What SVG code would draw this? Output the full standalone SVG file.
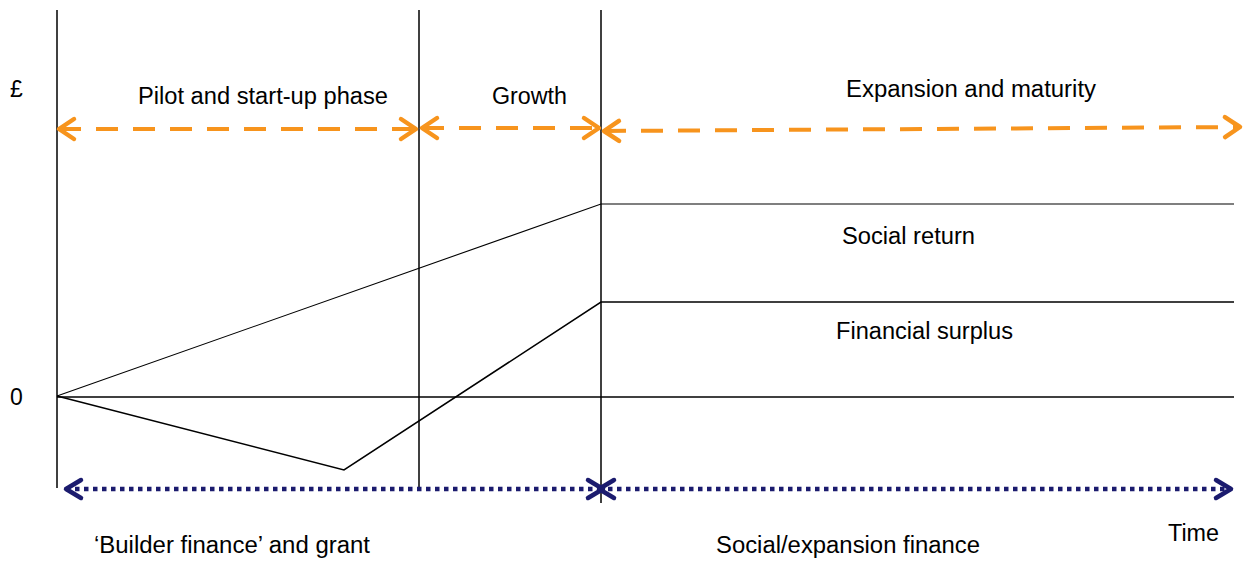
<svg xmlns="http://www.w3.org/2000/svg" width="1244" height="561" viewBox="0 0 1244 561">
<style>
text{font-family:"Liberation Sans",Arial,sans-serif;font-size:23px;fill:#000}
.ln{stroke:#000;fill:none;stroke-width:1.5}
.thin{stroke:#000;fill:none;stroke-width:1.1}
.org{stroke:#F7941D;stroke-width:4;fill:none;stroke-dasharray:22 15}
.nav{stroke:#1B1B6E;stroke-width:4.5;fill:none;stroke-dasharray:4.5 4.5}
</style>
<defs>
<marker id="ao" markerUnits="userSpaceOnUse" markerWidth="30" markerHeight="30" viewBox="-20 -15 30 30" refX="0" refY="0" orient="auto-start-reverse">
<path d="M-15,-10 L0,0 L-15,10" fill="none" stroke="#F7941D" stroke-width="4.5" stroke-linecap="round" stroke-linejoin="round"/>
</marker>
<marker id="an" markerUnits="userSpaceOnUse" markerWidth="30" markerHeight="30" viewBox="-20 -15 30 30" refX="0" refY="0" orient="auto-start-reverse">
<path d="M-15,-9 L0,0 L-15,9" fill="none" stroke="#1B1B6E" stroke-width="4.5" stroke-linecap="round" stroke-linejoin="round"/>
</marker>
</defs>
<rect width="1244" height="561" fill="#fff"/>
<g id="axes">
<line class="ln" x1="57" y1="10" x2="57" y2="488"/>
<line class="ln" x1="419" y1="10" x2="419" y2="488"/>
<line class="ln" x1="601" y1="10" x2="601" y2="503"/>
<line class="ln" x1="57" y1="397" x2="1234" y2="397"/>
</g>
<g id="series">
<polyline id="social-return-line" class="thin" points="57,396 601,204 1234,204"/>
<polyline id="financial-surplus-line" class="ln" points="57,396 344,470 601,302 1234,302"/>
</g>
<g id="connectors">
<line class="org" x1="59" y1="129" x2="416" y2="129" marker-start="url(#ao)" marker-end="url(#ao)"/>
<line class="org" x1="422" y1="128" x2="599" y2="128" marker-start="url(#ao)" marker-end="url(#ao)"/>
<line class="org" x1="604" y1="131" x2="1240" y2="127" marker-start="url(#ao)" marker-end="url(#ao)"/>
<line class="nav" x1="66" y1="489" x2="603" y2="489" marker-start="url(#an)" marker-end="url(#an)"/>
<line class="nav" x1="599" y1="489" x2="1231" y2="489" marker-start="url(#an)" marker-end="url(#an)"/>
</g>
<g id="labels">
<text x="10" y="97">£</text>
<text x="10" y="405">0</text>
<text x="138" y="104" textLength="250" lengthAdjust="spacingAndGlyphs">Pilot and start-up phase</text>
<text x="492" y="104" textLength="75" lengthAdjust="spacingAndGlyphs">Growth</text>
<text x="846" y="97" textLength="250" lengthAdjust="spacingAndGlyphs">Expansion and maturity</text>
<text x="842" y="244" textLength="133" lengthAdjust="spacingAndGlyphs">Social return</text>
<text x="836" y="339" textLength="177" lengthAdjust="spacingAndGlyphs">Financial surplus</text>
<text x="1168" y="541" textLength="51" lengthAdjust="spacingAndGlyphs">Time</text>
<text x="94" y="553" textLength="276" lengthAdjust="spacingAndGlyphs">‘Builder finance’ and grant</text>
<text x="716" y="553" textLength="264" lengthAdjust="spacingAndGlyphs">Social/expansion finance</text>
</g>
</svg>
